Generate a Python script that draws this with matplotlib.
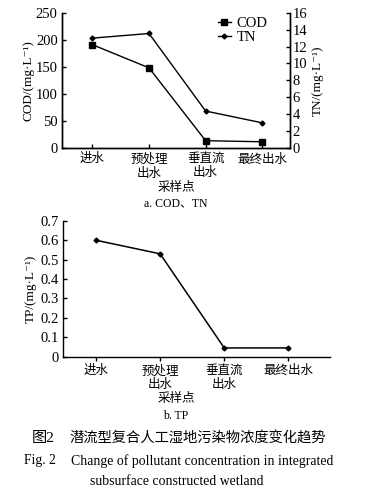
import numpy as np
import matplotlib as mpl
import matplotlib.pyplot as plt

mpl.use("Agg")

plt.rcParams.update({"font.family": ["Liberation Serif", "DejaVu Serif", "Noto Sans CJK SC"]})
plt.rcParams.update({"font.size": 10})
plt.rcParams.update({"axes.linewidth": 1.0})

sites = ["进水", "预处理\n出水", "垂直流\n出水", "最终出水"]
cod = [191, 148, 13, 11]
tn = [13.0, 13.55, 4.35, 2.95]
tp = [0.60, 0.53, 0.045, 0.045]

x = np.arange(len(sites))
unit = "/(mg·L⁻¹)"

fig = plt.figure(figsize=(3.68, 4.94), dpi=100)

# a. COD, TN
ax1 = fig.add_axes([0.168, 0.701, 0.620, 0.273])
l1, = ax1.plot(x, cod, color="k", lw=1.0, marker="s", ms=5, label="COD")
ax1.set_ylim(0, 250)
ax1.set_yticks(np.arange(0, 251, 50))
ax1.set_xlim(-0.54, 3.49)
ax1.set_xticks(x, labels=sites, linespacing=1.2, fontsize=9)
ax1.tick_params(direction="in", length=3, width=1, pad=3, labelsize=10.5)
ax1.tick_params(axis="x", labelsize=9, pad=4)
ax1.spines["top"].set_visible(False)
ax1.set_ylabel("COD" + unit, labelpad=1, fontsize=9.5)

ax2 = ax1.twinx()
l2, = ax2.plot(x, tn, color="k", lw=1.0, marker="D", ms=2.5, label="TN")
ax2.set_ylim(0, 16)
ax2.set_yticks(np.arange(0, 17, 2))
ax2.tick_params(direction="in", length=3, width=1, pad=2, labelsize=10.5)
ax2.spines["top"].set_visible(False)
ax2.set_ylabel("TN" + unit, labelpad=3, fontsize=9.5)

ax1.legend(handles=[l1, l2], loc="upper right", bbox_to_anchor=(0.96, 1.07),
           frameon=False, handlelength=0.9, handletextpad=0.4,
           labelspacing=0.1, fontsize=10.5)

fig.text(0.478, 0.620, "采样点", ha="center", va="center", fontsize=9)
fig.text(0.478, 0.589, "a. COD、TN", ha="center", va="center", fontsize=8.5)

# b. TP
ax3 = fig.add_axes([0.170, 0.278, 0.727, 0.275])
ax3.plot(x, tp, color="k", lw=1.1, marker="D", ms=2.5)
ax3.set_ylim(0, 0.7)
ax3.set_yticks(np.arange(0, 0.71, 0.1), labels=["0", "0.1", "0.2", "0.3", "0.4", "0.5", "0.6", "0.7"])
ax3.set_xlim(-0.52, 3.65)
ax3.set_xticks(x, labels=sites, linespacing=1.2, fontsize=9)
ax3.tick_params(axis="y", direction="in", length=3, width=1, pad=3, labelsize=10.5)
ax3.tick_params(axis="x", direction="out", length=3, width=1, pad=3, labelsize=9)
ax3.spines["top"].set_visible(False)
ax3.spines["right"].set_visible(False)
ax3.set_ylabel("TP" + unit, labelpad=2, fontsize=9.5)

fig.text(0.478, 0.193, "采样点", ha="center", va="center", fontsize=9)
fig.text(0.478, 0.158, "b. TP", ha="center", va="center", fontsize=8.5)

# caption
fig.text(0.085, 0.113, "图2", ha="left", va="center", fontsize=11)
fig.text(0.190, 0.113, "潜流型复合人工湿地污染物浓度变化趋势", ha="left", va="center",
         fontsize=10.3)
fig.text(0.065, 0.067, "Fig. 2", ha="left", va="center", fontsize=9.8)
fig.text(0.193, 0.067, "Change of pollutant concentration in integrated",
         ha="left", va="center", fontsize=9.9)
fig.text(0.480, 0.025, "subsurface constructed wetland", ha="center", va="center", fontsize=9.9)

plt.savefig("out.png", dpi=100)
